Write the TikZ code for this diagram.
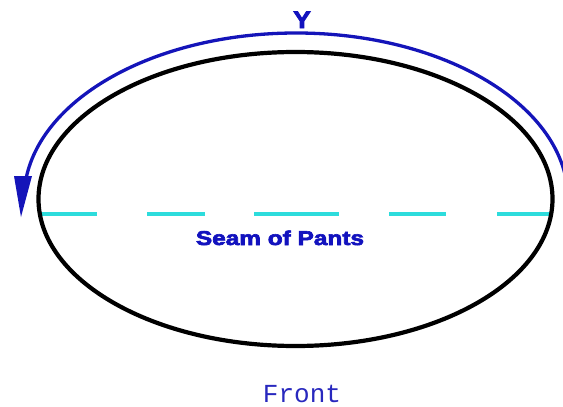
\documentclass[tikz,border=0pt]{standalone}
\usepackage{fontspec}
\setmainfont{Liberation Sans}
\newfontfamily\labelmono{Liberation Mono}
\definecolor{arcblue}{RGB}{20,20,185}
\definecolor{txtblue}{RGB}{18,18,190}
\definecolor{frontblue}{RGB}{40,40,190}
\definecolor{seamcyan}{RGB}{45,220,220}
\tikzset{
  outline/.style={draw=black, line width=4.2pt},
  seamdash/.style={draw=seamcyan, line width=4pt},
  dirarc/.style={draw=arcblue, line width=3.3pt},
}
\begin{document}
\begin{tikzpicture}[x=1pt,y=1pt]
\useasboundingbox (0,0) rectangle (563,-407);
\clip (0,0) rectangle (563,-407);
% seam dashes
\coordinate (d1a) at (39,-214);  \coordinate (d1b) at (97,-214);
\coordinate (d2a) at (147,-214); \coordinate (d2b) at (205,-214);
\coordinate (d3a) at (254,-214); \coordinate (d3b) at (339,-214);
\coordinate (d4a) at (389,-214); \coordinate (d4b) at (446,-214);
\coordinate (d5a) at (497,-214); \coordinate (d5b) at (553,-214);
\draw[seamdash] (d1a) -- (d1b);
\draw[seamdash] (d2a) -- (d2b);
\draw[seamdash] (d3a) -- (d3b);
\draw[seamdash] (d4a) -- (d4b);
\draw[seamdash] (d5a) -- (d5b);
% outline ellipse
\coordinate (c) at (295.5,-199);
\draw[outline] (c) ellipse[x radius=257, y radius=147];
% direction arc
\coordinate (arcstart) at ({296+272*cos(3)},{-199+166*sin(3)});
\draw[dirarc] (arcstart) arc[start angle=3, end angle=174, x radius=272, y radius=166];
\coordinate (tipL) at (14,-176);
\coordinate (tipR) at (32,-176);
\coordinate (tip) at (21,-217);
\fill[arcblue] (tipL) -- (tipR) -- (tip) -- cycle;
% labels
\node[anchor=base, inner sep=0pt, text=txtblue, font=\fontsize{24}{24}\selectfont\bfseries] (ylab) at (302,-28) {\scalebox{1.1}[1]{\addfontfeature{FakeBold=3}Y}};
\node[anchor=base, inner sep=0pt, text=txtblue, font=\fontsize{20}{20}\selectfont\bfseries] (seam) at (280,-245) {\scalebox{1.22}[1]{\addfontfeature{FakeBold=3}Seam of Pants}};
\node[anchor=base, inner sep=0pt, text=frontblue, font=\labelmono\fontsize{26}{26}\selectfont] (front) at (302,-402) {Front};
\end{tikzpicture}
\end{document}
